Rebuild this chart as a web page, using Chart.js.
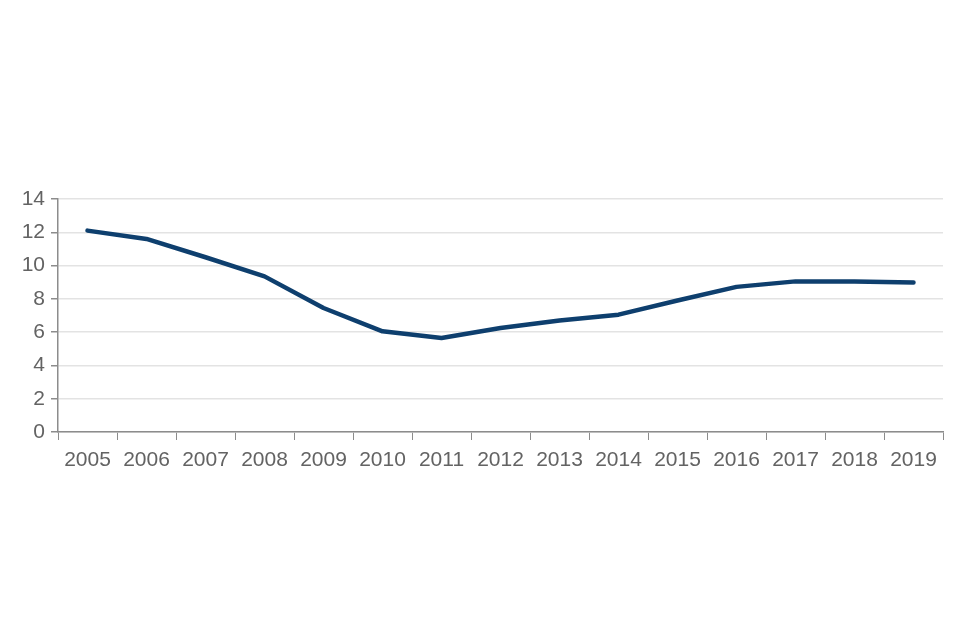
<!DOCTYPE html>
<html>
<head>
<meta charset="utf-8">
<script src="https://cdn.jsdelivr.net/npm/chart.js@4"></script>
<style>
  html, body { margin: 0; padding: 0; background: #fff; }
  #wrap { width: 960px; height: 640px; }
</style>
</head>
<body>
<div id="wrap"><canvas id="chart-area"></canvas></div>
<script>
// data
var years = ['2005','2006','2007','2008','2009','2010','2011','2012','2013','2014','2015','2016','2017','2018','2019'];
var values = [12.1, 11.6, 10.5, 9.35, 7.45, 6.05, 5.65, 6.25, 6.7, 7.05, 7.9, 8.72, 9.05, 9.05, 8.98];
var yTicks = [0, 2, 4, 6, 8, 10, 12, 14];

var axisGrey = '#8c8c8c';
var textGrey = '#636363';

var config = {
  type: 'line',
  data: {
    labels: years,
    datasets: [{
      data: values,
      borderColor: '#0e3f6e',
      borderWidth: 4.5,
      pointRadius: 0,
      tension: 0,
      fill: false,
      borderJoinStyle: 'round',
      borderCapStyle: 'round'
    }]
  },
  options: {
    responsive: true,
    maintainAspectRatio: false,
    animation: false,
    layout: { padding: { top: 199, right: 17, bottom: 170, left: 0 } },
    plugins: { legend: { display: false }, tooltip: { enabled: false } },
    scales: {
      x: {
        offset: true,
        grid: { drawOnChartArea: false, drawTicks: true, tickLength: 8, tickColor: axisGrey, offset: true },
        border: { color: axisGrey, width: 1.5 },
        ticks: { color: textGrey, font: { family: 'Liberation Sans', size: 21 }, padding: 8, maxRotation: 0, autoSkip: false },
        afterFit: function(scale) { scale.height = 38; }
      },
      y: {
        min: 0,
        max: 14,
        afterBuildTicks: function(scale) {
          scale.ticks = yTicks.map(function(v) { return { value: v }; });
        },
        afterFit: function(scale) { scale.width = 58; },
        grid: { color: '#e3e3e3', lineWidth: 1.5, tickLength: 7, tickColor: axisGrey },
        border: { color: axisGrey, width: 1.5 },
        ticks: { color: textGrey, font: { family: 'Liberation Sans', size: 21 }, padding: 6 }
      }
    }
  }
};

var ctx = document.getElementById('chart-area').getContext('2d');
window.myLine = new Chart(ctx, config);
</script>
</body>
</html>
